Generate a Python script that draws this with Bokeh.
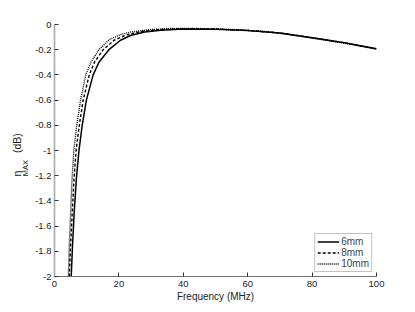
from bokeh.plotting import figure
from bokeh.models import FixedTicker, Legend, LegendItem, LinearAxis
from bokeh.embed import file_html
from bokeh.resources import INLINE

# ---- data ----
f_6mm = [5.2, 5.6, 6.1, 6.8, 7.6, 8.6, 9.9, 12.0, 13.8, 16.9, 20.5, 23.6, 28, 33, 40,
         50, 60, 70, 80, 90, 100]
eta_6mm = [-2.0, -1.75, -1.5, -1.22, -1.0, -0.8, -0.6, -0.4, -0.3, -0.2, -0.125, -0.087,
           -0.06, -0.045, -0.035, -0.038, -0.048, -0.068, -0.105, -0.145, -0.193]

f_8mm = [4.6, 5.0, 5.5, 6.0, 6.7, 7.7, 8.9, 10.8, 12.4, 15.1, 18.5, 22, 27, 33, 40,
         50, 60, 70, 80, 90, 100]
eta_8mm = [-2.0, -1.75, -1.5, -1.25, -1.0, -0.8, -0.6, -0.4, -0.3, -0.2, -0.125, -0.085,
           -0.055, -0.04, -0.033, -0.036, -0.047, -0.067, -0.104, -0.145, -0.193]

f_10mm = [4.3, 4.6, 5.0, 5.4, 6.0, 6.9, 8.1, 9.7, 11.3, 13.8, 17, 20.5, 23.6, 30, 36,
          45, 55, 65, 70, 80, 90, 100]
eta_10mm = [-2.0, -1.75, -1.5, -1.25, -1.0, -0.8, -0.6, -0.4, -0.3, -0.2, -0.12, -0.08,
            -0.06, -0.04, -0.032, -0.032, -0.04, -0.055, -0.07, -0.108, -0.148, -0.195]

series_names = ["6mm", "8mm", "10mm"]
x_ticks = [0, 20, 40, 60, 80, 100]
y_ticks = [0, -0.2, -0.4, -0.6, -0.8, -1, -1.2, -1.4, -1.6, -1.8, -2]
y_tick_labels = ["0", "-0.2", "-0.4", "-0.6", "-0.8", "-1", "-1.2", "-1.4", "-1.6", "-1.8", "-2"]
x_label = "Frequency (MHz)"
y_label_main = "η"
y_label_sub = "MAX"
y_label_unit = "(dB)"

FONT = "Liberation Sans"
NB = "\u00a0"

p = figure(width=407, height=304, output_backend="svg", toolbar_location=None,
           x_range=(0, 100), y_range=(-2, 0),
           min_border_left=54, min_border_right=31, min_border_top=24, min_border_bottom=27)
p.outline_line_color = None
p.grid.visible = False
p.background_fill_color = "white"
p.border_fill_color = "white"

p.xaxis.ticker = FixedTicker(ticks=x_ticks)
p.yaxis.ticker = FixedTicker(ticks=y_ticks)
p.yaxis.major_label_overrides = {t: l for t, l in zip(y_ticks, y_tick_labels)}
for ax in (p.xaxis, p.yaxis):
    ax.major_tick_in = 4
    ax.major_tick_out = 0
    ax.minor_tick_line_color = None
    ax.major_tick_line_color = "#333333"
    ax.major_label_text_font = FONT
    ax.major_label_text_font_size = "9.5px"
    ax.major_label_text_color = "#222222"
p.yaxis.axis_line_color = "#a8a8a8"
p.yaxis.axis_line_width = 1.6
p.xaxis.axis_line_color = "#707070"
p.xaxis.axis_line_width = 1
p.yaxis.major_label_standoff = 3
p.xaxis.major_label_standoff = 4
p.xaxis.axis_label = x_label
p.xaxis.axis_label_text_font = FONT
p.xaxis.axis_label_text_font_size = "10px"
p.xaxis.axis_label_text_font_style = "normal"
p.xaxis.axis_label_text_color = "#222222"
p.xaxis.axis_label_standoff = 1


def label_axis(text, size, standoff):
    ax = LinearAxis(ticker=FixedTicker(ticks=[]), axis_line_color=None,
                    major_tick_line_color=None, minor_tick_line_color=None,
                    major_tick_in=0, major_tick_out=0, minor_tick_in=0, minor_tick_out=0,
                    major_label_standoff=0, major_label_text_font_size="0px",
                    axis_label=text, axis_label_standoff=standoff,
                    axis_label_text_font=FONT, axis_label_text_font_size=size,
                    axis_label_text_font_style="normal", axis_label_text_color="#222222")
    p.add_layout(ax, "left")
    return ax


# y-axis title with a subscript: two label-only axes stacked next to the tick axis
label_axis(y_label_sub + NB * 17, "7.5px", 3)
label_axis(y_label_main + NB * 6 + y_label_unit + NB * 3, "10.5px", -5)

r1 = p.line(f_6mm, eta_6mm, line_color="black", line_width=1.5)
r2 = p.line(f_8mm, eta_8mm, line_color="black", line_width=1.4, line_dash="3 2")
r3 = p.line(f_10mm, eta_10mm, line_color="black", line_width=1.4, line_dash="1 1")

legend = Legend(items=[LegendItem(label=series_names[0], renderers=[r1]),
                       LegendItem(label=series_names[1], renderers=[r2]),
                       LegendItem(label=series_names[2], renderers=[r3])],
                location="bottom_right", margin=4, padding=2, spacing=0,
                glyph_width=22, glyph_height=11, label_height=11, label_standoff=2,
                label_text_font=FONT, label_text_font_size="10px",
                border_line_color="#888888", border_line_width=1,
                background_fill_color="white", background_fill_alpha=1)
p.add_layout(legend)

open("out.html", "w").write(file_html(p, INLINE))
